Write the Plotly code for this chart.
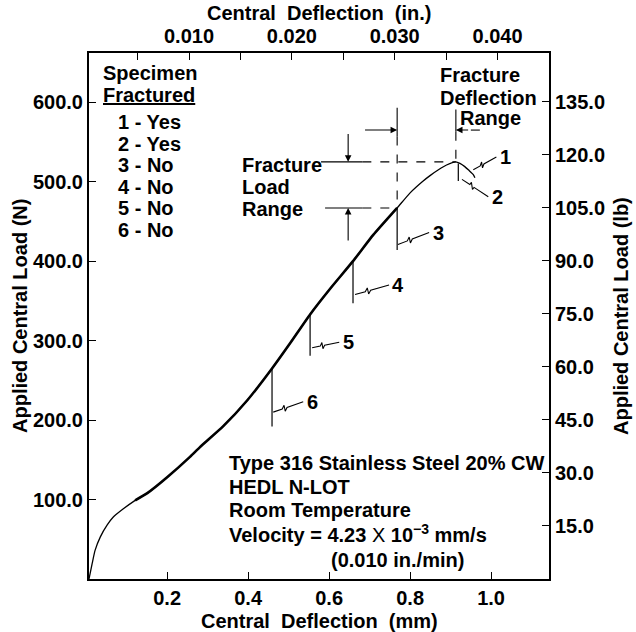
import plotly.graph_objects as go
import numpy as np

N_PER_LB = 4.448
MM_PER_IN = 25.4

# master load-deflection curve (common to all specimens)
defl_mm = [0.007, 0.015, 0.022, 0.035, 0.052, 0.067, 0.091, 0.121, 0.151, 0.200, 0.257,
           0.281, 0.338, 0.398, 0.459, 0.504, 0.553, 0.602, 0.659, 0.709, 0.768,
           0.800, 0.830, 0.850, 0.870, 0.890, 0.913]
load_N = [0, 20, 36, 53, 68, 78, 88, 99, 108, 128, 154,
          166, 192, 225, 265, 297, 333, 365, 400, 433, 467,
          486, 500, 508, 515, 521, 525]

# specimen 1 post-peak tail
tail_defl = [0.913, 0.923, 0.935, 0.946, 0.956, 0.960]
tail_load = [525, 523, 519, 514, 509, 505]

# overlapping (thick) region of the specimen traces
thick_from, thick_to = 0.10, 0.768

spec_ids = ["1", "2", "3", "4", "5", "6"]
spec_fractured = ["Yes", "Yes", "No", "No", "No", "No"]
# unloading drops for specimens 2..6
drop_defl = [0.919, 0.768, 0.659, 0.553, 0.459]
drop_top = [523, 467, 400, 333, 265]
drop_bottom = [501, 414, 347, 281, 192]

frac_load_range = [467, 525]
frac_defl_range = [0.768, 0.913]

x_ticks_mm = [0.2, 0.4, 0.6, 0.8, 1.0]
x_ticks_in = [0.005, 0.010, 0.015, 0.020, 0.025, 0.030, 0.035, 0.040, 0.045]
x_ticks_in_lbl = ["", "0.010", "", "0.020", "", "0.030", "", "0.040", ""]
y_ticks_N = [100, 200, 300, 400, 500, 600]
y_ticks_lb = [15, 30, 45, 60, 75, 90, 105, 120, 135]

X_RANGE = [0.007, 1.143]
Y_RANGE = [0, 662]

FONT = "Liberation Sans, Arial, sans-serif"
FS = 20
BLACK = "black"

W, H = 636, 632
ML, MR, MT, MB = 89, 87, 53, 53
PW, PH = W - ML - MR, H - MT - MB

fig = go.Figure()

# master curve (thin)
fig.add_trace(go.Scatter(x=defl_mm + tail_defl[1:], y=load_N + tail_load[1:], mode="lines",
                         line=dict(color=BLACK, width=1.3, shape="spline", smoothing=0.5),
                         showlegend=False, hoverinfo="skip"))
# overlapping specimen traces (thick)
dm = np.array(defl_mm); lm = np.array(load_N)
sel = (dm >= thick_from) & (dm <= thick_to)
fig.add_trace(go.Scatter(x=dm[sel], y=lm[sel], mode="lines",
                         line=dict(color=BLACK, width=2.6, shape="spline", smoothing=0.5),
                         showlegend=False, hoverinfo="skip"))

# drop lines
for xd, yt, yb in zip(drop_defl, drop_top, drop_bottom):
    fig.add_trace(go.Scatter(x=[xd, xd], y=[yt, yb], mode="lines",
                             line=dict(color=BLACK, width=1.2), showlegend=False, hoverinfo="skip"))

# dummy traces to show secondary axes
fig.add_trace(go.Scatter(x=[X_RANGE[0] / MM_PER_IN], y=[None], xaxis="x2", yaxis="y", showlegend=False))
fig.add_trace(go.Scatter(x=[None], y=[Y_RANGE[0] / N_PER_LB], xaxis="x", yaxis="y2", showlegend=False))

# label positions (data coords) and leader line start points
lbl_xy = [(1.035, 531), (1.015, 481), (0.869, 436), (0.770, 370), (0.647, 298), (0.558, 223)]
lead_start = [(0.956, 515), (0.928, 503), (0.770, 421), (0.664, 358), (0.558, 291), (0.462, 210)]
for sid, (lx, ly), (sx, sy) in zip(spec_ids, lbl_xy, lead_start):
    ex, ey = lx - 0.022, ly
    t = np.array([0, 0.30, 0.36, 0.40, 0.46, 1.0])
    pxs = sx + (ex - sx) * t
    pys = sy + (ey - sy) * t + np.array([0, 0, 4, -4, 0, 0])
    fig.add_trace(go.Scatter(x=pxs, y=pys, mode="lines", line=dict(color=BLACK, width=1.1),
                             showlegend=False, hoverinfo="skip"))
    fig.add_annotation(x=lx, y=ly, text=sid, showarrow=False, xanchor="center", yanchor="middle",
                       font=dict(family=FONT, size=FS, color=BLACK, weight="bold"))

# fracture range guide lines
yl, yh = frac_load_range
xl, xh = frac_defl_range
shapes = []
def seg(x0, y0, x1, y1, dash="solid", w=1.1):
    shapes.append(dict(type="line", xref="x", yref="y", x0=x0, y0=y0, x1=x1, y1=y1,
                       line=dict(color=BLACK, width=w, dash=dash)))
seg(0.580, yh, 0.682, yh)
seg(0.682, yh, xh, yh, "dash")
seg(0.590, yl, 0.682, yl)
seg(0.682, yl, xl, yl, "dash")
seg(xl, 593, xl, 557)
seg(xl, 557, xl, yl, "dash")
seg(xh, 591, xh, 563)
seg(xh, 563, xh, yh, "dash")
seg(0.950, 565, 0.990, 565, "dash")

def arrow(x, y, ax, ay):
    fig.add_annotation(x=x, y=y, ax=ax, ay=ay, xref="x", yref="y", axref="x", ayref="y",
                       text="", showarrow=True, arrowhead=2, arrowsize=1.2, arrowwidth=1.1,
                       arrowcolor=BLACK)
arrow(0.647, yh, 0.647, 562)
arrow(0.647, yl, 0.647, 424)
arrow(xl, 565, 0.685, 565)
arrow(xh, 565, 0.947, 565)

fig.update_layout(shapes=shapes)

def px(xp): return (xp - ML) / PW
def py(yp): return (H - MB - yp) / PH

def txt(xp, yp, s, xanchor="left", angle=0, **kw):
    fig.add_annotation(x=px(xp), y=py(yp), xref="paper", yref="paper", text=s, showarrow=False,
                       xanchor=xanchor, yanchor="middle", textangle=angle,
                       font=dict(family=FONT, size=FS, color=BLACK, weight="bold", **kw))

# legend block
txt(101, 73, "Specimen")
txt(101, 95, "Fractured", lineposition="under")
for i, (sid, fr) in enumerate(zip(spec_ids, spec_fractured)):
    txt(116, 122 + 21.5 * i, f"{sid} - {fr}")

# fracture deflection range label
txt(480, 75, "Fracture", xanchor="center")
txt(488, 98, "Deflection", xanchor="center")
txt(490, 118, "Range", xanchor="center")

# fracture load range label
txt(240, 165, "Fracture")
txt(240, 187, "Load")
txt(240, 209, "Range")

# material / test info
info = ["Type 316 Stainless Steel 20% CW", "HEDL N-LOT", "Room Temperature",
        "Velocity = 4.23 <span style='font-weight:normal'>X</span> 10<sup>−3</sup> mm/s"]
for i, s in enumerate(info):
    txt(227, 463 + 23.5 * i, s)
txt(329, 560, "(0.010 in./min)")

# axis titles
sp = "\u00a0\u00a0"
txt(319, 13, f"Central{sp}Deflection{sp}(in.)", xanchor="center")
txt(319, 621, f"Central{sp}Deflection{sp}(mm)", xanchor="center")
txt(20, 316, "Applied Central Load (N)", xanchor="center", angle=-90)
txt(621, 316, "Applied Central Load (lb)", xanchor="center", angle=-90)

tickfont = dict(family=FONT, size=FS, color=BLACK, weight="bold")
axis_common = dict(showgrid=False, zeroline=False, showline=True, linecolor=BLACK, linewidth=2,
                   ticks="inside", ticklen=7, tickwidth=1.3, tickcolor=BLACK, tickfont=tickfont)

fig.update_layout(
    width=W, height=H,
    margin=dict(l=ML, r=MR, t=MT, b=MB),
    paper_bgcolor="white", plot_bgcolor="white",
    showlegend=False,
    xaxis=dict(range=X_RANGE, tickvals=x_ticks_mm, ticktext=[f"{v:.1f}" for v in x_ticks_mm],
               **axis_common),
    xaxis2=dict(range=[X_RANGE[0] / MM_PER_IN, X_RANGE[1] / MM_PER_IN], overlaying="x", side="top",
                anchor="y", tickvals=x_ticks_in, ticktext=x_ticks_in_lbl, **axis_common),
    yaxis=dict(range=Y_RANGE, tickvals=y_ticks_N, ticktext=[f"{v:.1f}" for v in y_ticks_N],
               **axis_common),
    yaxis2=dict(range=[Y_RANGE[0] / N_PER_LB, Y_RANGE[1] / N_PER_LB], overlaying="y", side="right",
                anchor="x", tickvals=y_ticks_lb, ticktext=[f"{v:.1f}" for v in y_ticks_lb],
                **axis_common),
)

fig.write_html("out.html")
